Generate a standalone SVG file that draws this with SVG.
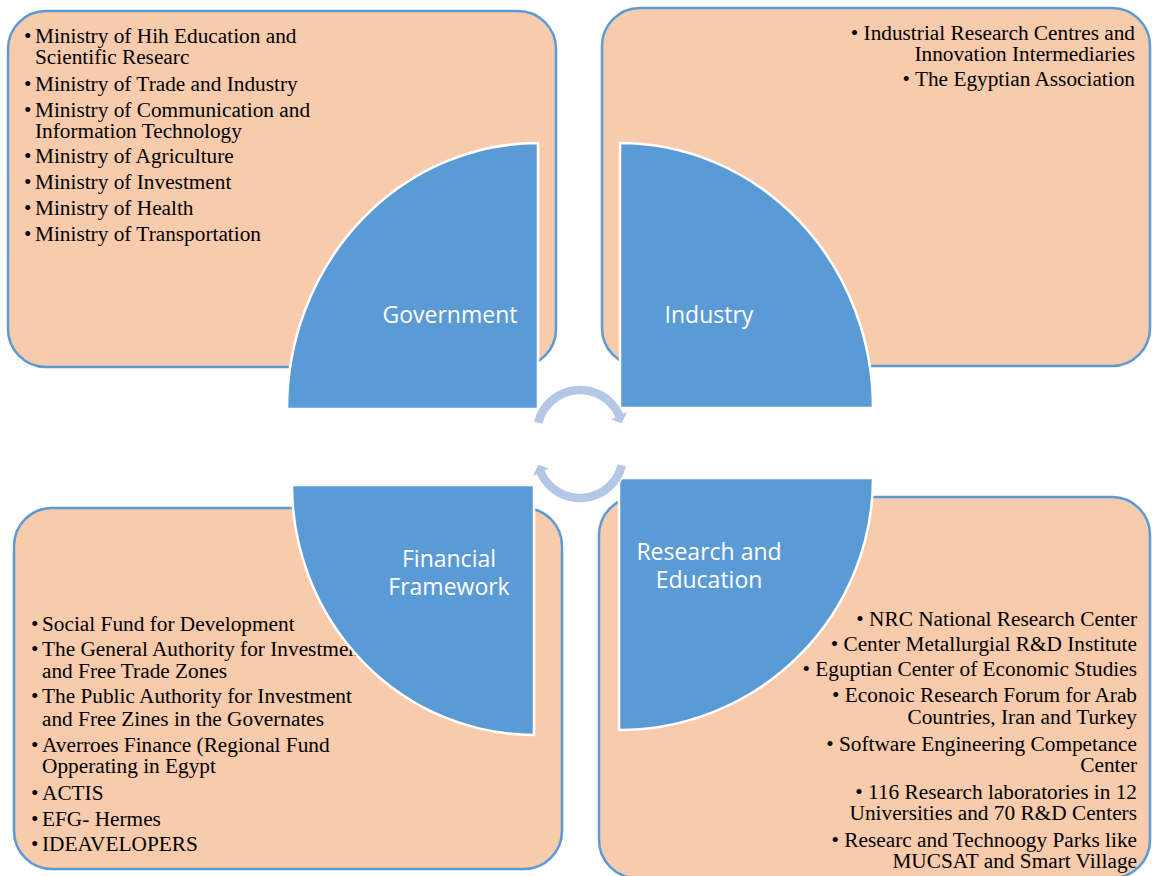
<svg xmlns="http://www.w3.org/2000/svg" width="1152" height="876" viewBox="0 0 1152 876">
<style>
.box{fill:#F8CBAD;stroke:#5B9BD5;stroke-width:2.5}
.quad{fill:#5B9BD5;stroke:#FFFFFF;stroke-width:2.5}
.arrow{fill:#B4C7E7;stroke:#FFFFFF;stroke-width:1.5}
.t{font-family:"Liberation Serif","Times New Roman",serif;font-size:21.3px;fill:#000000}
.r{text-anchor:end}
.lbl{font-family:"Open Sans","Noto Sans",sans-serif;font-size:23px;fill:#FFFFFF;text-anchor:middle}
</style>
<rect width="1152" height="876" fill="#FFFFFF"/>

<g id="gov-box">
<rect class="box" x="8" y="11" width="548" height="356" rx="38" ry="38"/>
<text class="t" x="24" y="43">•</text><text class="t" x="35" y="43">Ministry of Hih Education and</text>
<text class="t" x="35" y="64">Scientific Researc</text>
<text class="t" x="24" y="91">•</text><text class="t" x="35" y="91">Ministry of Trade and Industry</text>
<text class="t" x="24" y="117">•</text><text class="t" x="35" y="117">Ministry of Communication and</text>
<text class="t" x="35" y="138">Information Technology</text>
<text class="t" x="24" y="163">•</text><text class="t" x="35" y="163">Ministry of Agriculture</text>
<text class="t" x="24" y="189">•</text><text class="t" x="35" y="189">Ministry of Investment</text>
<text class="t" x="24" y="215">•</text><text class="t" x="35" y="215">Ministry of Health</text>
<text class="t" x="24" y="241">•</text><text class="t" x="35" y="241">Ministry of Transportation</text>
</g>

<g id="ind-box">
<rect class="box" x="602" y="8" width="548" height="358" rx="38" ry="38"/>
<text class="t r" x="1135" y="40">• Industrial Research Centres and</text>
<text class="t r" x="1135" y="61">Innovation Intermediaries</text>
<text class="t r" x="1135" y="86">• The Egyptian Association</text>
</g>

<g id="fin-box">
<rect class="box" x="14" y="508" width="548" height="361" rx="38" ry="38"/>
<text class="t" x="31" y="631">•</text><text class="t" x="42" y="631">Social Fund for Development</text>
<text class="t" x="31" y="656">•</text><text class="t" x="42" y="656">The General Authority for Investment</text>
<text class="t" x="42" y="678">and Free Trade Zones</text>
<text class="t" x="31" y="703">•</text><text class="t" x="42" y="703">The Public Authority for Investment</text>
<text class="t" x="42" y="726">and Free Zines in the Governates</text>
<text class="t" x="31" y="752">•</text><text class="t" x="42" y="752">Averroes Finance (Regional Fund</text>
<text class="t" x="42" y="773">Opperating in Egypt</text>
<text class="t" x="31" y="800">•</text><text class="t" x="42" y="800">ACTIS</text>
<text class="t" x="31" y="826">•</text><text class="t" x="42" y="826">EFG- Hermes</text>
<text class="t" x="31" y="851">•</text><text class="t" x="42" y="851">IDEAVELOPERS</text>
</g>

<g id="res-box">
<rect class="box" x="599" y="497" width="551" height="381" rx="38" ry="38"/>
<text class="t r" x="1137" y="626">• NRC National Research Center</text>
<text class="t r" x="1137" y="651">• Center Metallurgial R&amp;D Institute</text>
<text class="t r" x="1137" y="676">• Eguptian Center of Economic Studies</text>
<text class="t r" x="1137" y="702">• Econoic Research Forum for Arab</text>
<text class="t r" x="1137" y="724">Countries, Iran and Turkey</text>
<text class="t r" x="1137" y="751">• Software Engineering Competance</text>
<text class="t r" x="1137" y="772">Center</text>
<text class="t r" x="1137" y="799">• 116 Research laboratories in 12</text>
<text class="t r" x="1137" y="820">Universities and 70 R&amp;D Centers</text>
<text class="t r" x="1137" y="847">• Researc and Technoogy Parks like</text>
<text class="t r" x="1137" y="868">MUCSAT and Smart Village</text>
</g>

<g id="government">
<path class="quad" d="M538,409 L287,409 A251,266 0 0,1 538,143 Z"/>
<text class="lbl" x="450" y="323">Government</text>
</g>
<g id="industry">
<path class="quad" d="M620,408 L620,143 A253,265 0 0,1 873,408 Z"/>
<text class="lbl" x="709" y="323">Industry</text>
</g>
<g id="financial">
<path class="quad" d="M534,485 L534,735 A242,250 0 0,1 292,485 Z"/>
<text class="lbl" x="449" y="567">Financial</text>
<text class="lbl" x="449" y="595">Framework</text>
</g>
<g id="research">
<path class="quad" d="M619,478 L873,478 A254,252 0 0,1 619,730 Z"/>
<text class="lbl" x="709" y="560">Research and</text>
<text class="lbl" x="709" y="588">Education</text>
</g>

<g id="connectors">
<path id="cycle-top" class="arrow" d="M533.2,422.2 A48,48 0 0,1 623.5,412.7 L628.9,410.2 L622.1,424.1 L609.0,419.5 L614.4,416.9 A38,38 0 0,0 543.0,424.4 Z"/>
<path id="cycle-bottom" class="arrow" transform="rotate(180 580 444)" d="M533.2,422.2 A48,48 0 0,1 623.5,412.7 L628.9,410.2 L622.1,424.1 L609.0,419.5 L614.4,416.9 A38,38 0 0,0 543.0,424.4 Z"/>
</g>
</svg>
